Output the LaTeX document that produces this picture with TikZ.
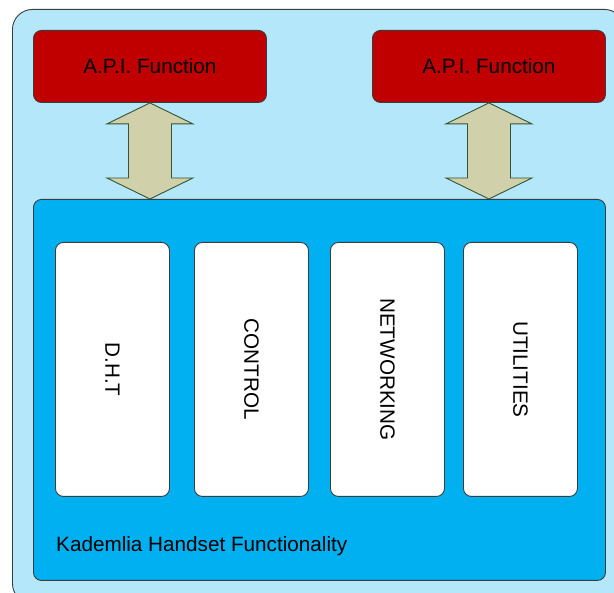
\documentclass[tikz,border=0pt]{standalone}
\usepackage{fontspec}
\setmainfont{Liberation Sans}
\usetikzlibrary{calc}

\definecolor{paleblue}{RGB}{179,231,249}
\definecolor{coreblue}{RGB}{0,176,240}
\definecolor{apired}{RGB}{192,0,0}
\definecolor{arrowfill}{RGB}{208,209,170}
\definecolor{arrowline}{RGB}{52,84,52}
\definecolor{edgegray}{RGB}{60,60,60}

\tikzset{
  box/.style={draw=edgegray, line width=0.9pt, rounded corners=8pt, inner sep=0pt},
  apibox/.style={box, fill=apired, minimum width=233pt, minimum height=72pt,
    font=\fontsize{20.7}{24}\selectfont},
  modbox/.style={box, fill=white, minimum width=114pt, minimum height=254pt},
  modlabel/.style={rotate=-90, font=\fontsize{20.7}{24}\selectfont},
  arrowbody/.style={draw=arrowline, fill=arrowfill, line width=0.9pt, line join=miter},
}

\begin{document}
\begin{tikzpicture}[x=1pt, y=-1pt]
  \useasboundingbox (0,0) rectangle (614,593);
  \clip (0,0) rectangle (614,593);

  % outer container
  \node[box, fill=paleblue, rounded corners=20pt, anchor=north west,
        minimum width=612pt, minimum height=594pt] (outer) at (12,9) {};

  % API functions
  \node[apibox, anchor=north west] (apiL) at (33,30) {A.P.I. Function};
  \node[apibox, anchor=north west] (apiR) at (372,30) {A.P.I. Function};

  % core functionality block
  \node[box, fill=coreblue, anchor=north west,
        minimum width=572pt, minimum height=381pt] (core) at (33,199) {};
  \node[anchor=base west, inner sep=0pt, font=\fontsize{20.7}{24}\selectfont]
        (corelabel) at (56,552) {Kademlia Handset Functionality};

  % modules
  \node[modbox, anchor=north west] (dht) at (55,242) {};
  \node[modbox, anchor=north west] (ctrl) at (194,242) {};
  \node[modbox, anchor=north west] (net) at (330,242) {};
  \node[modbox, anchor=north west] (util) at (463,242) {};
  \node[modlabel] at (dht.center) {D.H.T};
  \node[modlabel] at (ctrl.center) {CONTROL};
  \node[modlabel] at (net.center) {NETWORKING};
  \node[modlabel] at (util.center) {UTILITIES};

  % two-way arrows between the API functions and the core block
  \foreach \api in {apiL, apiR} {
    \draw[arrowbody] let \p1=(\api.south), \p2=(core.north) in
      (\x1,\y1) -- (\x1+43pt,\y1-21pt) -- (\x1+21.5pt,\y1-21pt)
      -- (\x1+21.5pt,\y2+21pt) -- (\x1+43pt,\y2+21pt) -- (\x1,\y2)
      -- (\x1-43pt,\y2+21pt) -- (\x1-21.5pt,\y2+21pt)
      -- (\x1-21.5pt,\y1-21pt) -- (\x1-43pt,\y1-21pt) -- cycle;
  }
\end{tikzpicture}
\end{document}
